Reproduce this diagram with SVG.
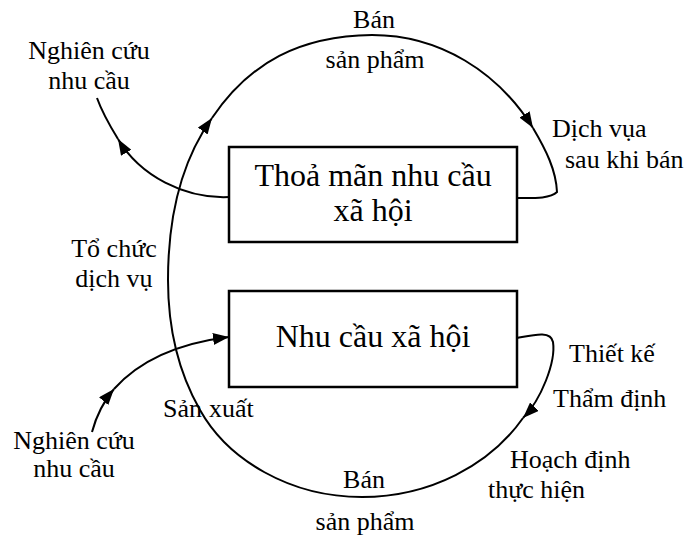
<svg xmlns="http://www.w3.org/2000/svg" width="687" height="537" viewBox="0 0 687 537">
  <style>
    .box { fill: #ffffff; stroke: #000000; stroke-width: 2.5; }
    .conn { fill: none; stroke: #000000; stroke-width: 2; }
    text { font-family: 'Liberation Serif', 'DejaVu Serif', serif; fill: #000000; }
    .big { font-size: 32px; text-anchor: middle; }
    .lbl { font-size: 26px; }
    .mid { text-anchor: middle; }
  </style>
  <defs>
    <marker id="arrow" markerUnits="userSpaceOnUse" markerWidth="16" markerHeight="12" refX="16" refY="6" orient="auto">
      <path d="M0,0 L16,6 L0,12 z" fill="#000000"/>
    </marker>
  </defs>

  <!-- connectors: the outer loop and the two side arrows -->
  <g id="connectors">
    <!-- from the lower box, hooking down the right side -->
    <path class="conn" d="M517,338 C533,335 551,330 553,342 C556,362 541,400 523,418" marker-end="url(#arrow)"/>
    <!-- round the bottom and up the left side -->
    <path class="conn" d="M523,418 C490,465 430,497 362,497 C290,497 228,460 200,410 C180,375 168,330 168,280 C168,215 182,160 212,118" marker-end="url(#arrow)"/>
    <!-- over the top -->
    <path class="conn" d="M212,118 C250,62 300,36 372,35 C440,35 498,72 533,128" marker-end="url(#arrow)"/>
    <!-- down into the upper box -->
    <path class="conn" d="M533,128 C546,150 556,170 557,192 C550,199 532,198 517,198"/>
    <!-- upper box out to the top-left label -->
    <path class="conn" d="M229,197 C185,199 140,176 118,139" marker-end="url(#arrow)"/>
    <path class="conn" d="M118,139 C110,126 102,112 97,98"/>
    <!-- bottom-left label into the lower box -->
    <path class="conn" d="M92,432 C96,417 103,402 114,389" marker-end="url(#arrow)"/>
    <path class="conn" d="M114,389 C140,360 180,343 229,337" marker-end="url(#arrow)"/>
  </g>

  <g id="node-thoa-man">
    <rect class="box" x="229" y="147" width="288" height="95"/>
    <text class="big" x="373" y="186" font-family="Liberation Serif, serif">Thoả mãn nhu cầu</text>
    <text class="big" x="373" y="221" font-family="Liberation Serif, serif">xã hội</text>
  </g>

  <g id="node-nhu-cau">
    <rect class="box" x="229" y="291" width="288" height="96"/>
    <text class="big" x="373" y="347" font-family="Liberation Serif, serif">Nhu cầu xã hội</text>
  </g>

  <g id="labels" font-family="Liberation Serif, serif">
    <text class="lbl mid" x="374" y="28">Bán</text>
    <text class="lbl mid" x="375" y="68">sản phẩm</text>

    <text class="lbl mid" x="89" y="59">Nghiên cứu</text>
    <text class="lbl mid" x="89" y="89">nhu cầu</text>

    <text class="lbl" x="552" y="137">Dịch vụa</text>
    <text class="lbl" x="565" y="168">sau khi bán</text>

    <text class="lbl mid" x="114" y="257">Tổ chức</text>
    <text class="lbl mid" x="114" y="287">dịch vụ</text>

    <text class="lbl" y="417"><tspan x="163">Sản </tspan><tspan x="209">xuất</tspan></text>

    <text class="lbl mid" x="74" y="449">Nghiên cứu</text>
    <text class="lbl mid" x="74" y="477">nhu cầu</text>

    <text class="lbl" x="569" y="362">Thiết kế</text>
    <text class="lbl" x="553" y="407">Thẩm định</text>
    <text class="lbl" x="510" y="468">Hoạch định</text>
    <text class="lbl" x="488" y="498">thực hiện</text>

    <text class="lbl mid" x="364" y="488">Bán</text>
    <text class="lbl mid" x="365" y="530">sản phẩm</text>
  </g>
</svg>
